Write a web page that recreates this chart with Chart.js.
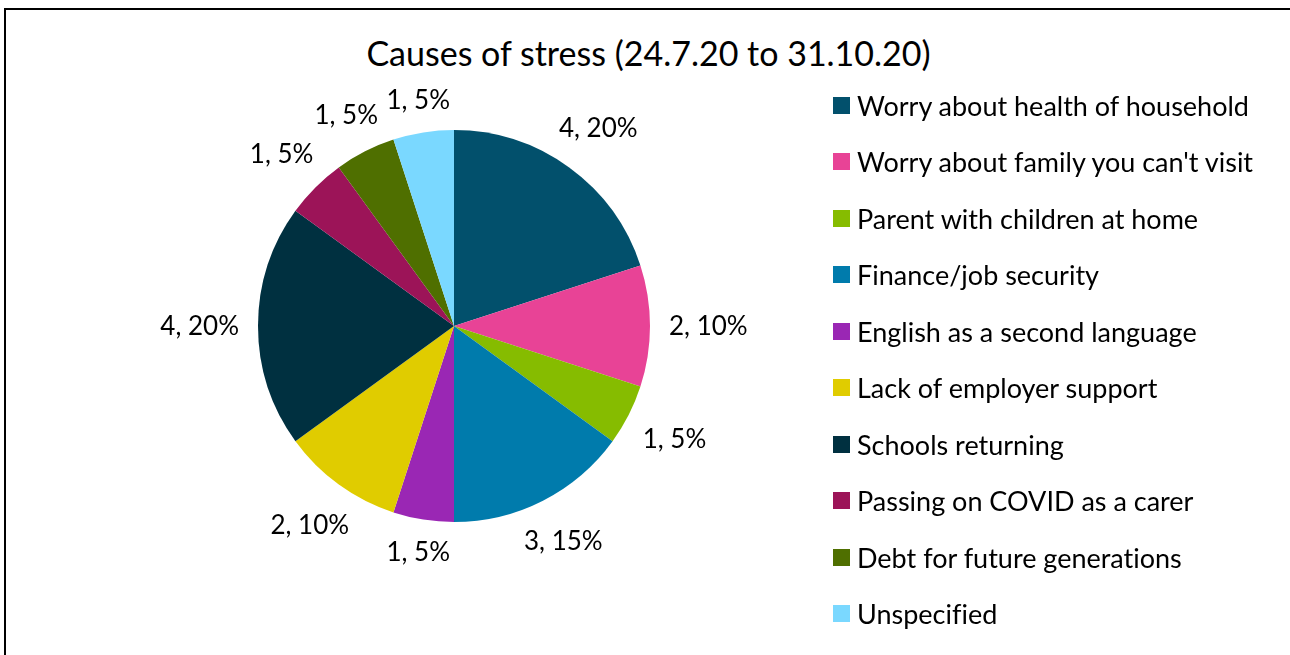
<!DOCTYPE html>
<html lang="en">
<head>
  <meta charset="UTF-8" />
  <title>Causes of stress</title>
  <script src="https://cdn.jsdelivr.net/npm/chart.js"></script>
  <style>
    html, body { margin: 0; padding: 0; background: #fff; overflow: hidden; }
    body { width: 1290px; height: 655px; position: relative; font-family: 'Lato', sans-serif; color: #000; font-variant-ligatures: none; }
    .frame { position: absolute; left: 4px; top: 8px; width: 1320px; height: 700px; border: 2px solid #000; box-sizing: border-box; }
    #chart { position: absolute; left: 0; top: 0; }
    .title { position: absolute; left: 0; width: 1297px; top: 33px; text-align: center; font-size: 34px; line-height: 40px; }
    #legend { position: absolute; left: 833px; top: 76.75px; margin: 0; padding: 0; list-style: none; }
    #legend li { height: 56.55px; display: flex; align-items: center; font-size: 27px; white-space: nowrap; }
    #legend .box { width: 17px; height: 17px; margin-right: 7px; flex: none; }
  </style>
</head>
<body>
  <div class="frame"></div>
  <div class="title">Causes of stress (24.7.20 to 31.10.20)</div>
  <canvas id="chart" width="1290" height="655"></canvas>
  <ul id="legend"></ul>

  <script>
    const categories = [
      "Worry about health of household",
      "Worry about family you can't visit",
      "Parent with children at home",
      "Finance/job security",
      "English as a second language",
      "Lack of employer support",
      "Schools returning",
      "Passing on COVID as a carer",
      "Debt for future generations",
      "Unspecified"
    ];
    const counts = [4, 2, 1, 3, 1, 2, 4, 1, 1, 1];
    const colours = ["#02506C", "#E84396", "#86BC00", "#007BAC", "#9A27B4",
                     "#E0CC00", "#003040", "#9C1458", "#4F6F00", "#7AD8FF"];

    const total = counts.reduce((a, b) => a + b, 0);

    // value labels outside each slice: "n, p%"
    const outsideLabels = {
      id: "outsideLabels",
      afterDatasetsDraw(chart) {
        const ctx = chart.ctx;
        const meta = chart.getDatasetMeta(0);
        ctx.save();
        ctx.font = "26px Lato";
        ctx.fillStyle = "#000";
        ctx.textAlign = "center";
        ctx.textBaseline = "middle";
        meta.data.forEach((arc, i) => {
          const p = arc.getProps(["x", "y", "startAngle", "endAngle", "outerRadius"], true);
          const mid = (p.startAngle + p.endAngle) / 2;
          const v = chart.data.datasets[0].data[i];
          const text = v + ", " + Math.round(v / total * 100) + "%";
          const w = ctx.measureText(text).width;
          const cos = Math.cos(mid), sin = Math.sin(mid);
          const d = p.outerRadius + 19 + (w / 2) * Math.abs(cos) + 9 * Math.abs(sin);
          ctx.fillText(text, p.x + d * cos, p.y + d * sin + 1);
        });
        ctx.restore();
      }
    };

    const chart = new Chart(document.getElementById("chart"), {
      type: "pie",
      data: {
        labels: categories,
        datasets: [{
          data: counts,
          backgroundColor: colours,
          borderWidth: 0,
          hoverOffset: 0,
          offset: 0
        }]
      },
      options: {
        responsive: false,
        animation: false,
        events: [],
        layout: { padding: { left: 258, right: 640, top: 130, bottom: 133 } },
        plugins: {
          legend: { display: false },
          tooltip: { enabled: false }
        }
      },
      plugins: [outsideLabels]
    });

    // legend built from the chart's own legend items
    const legendEl = document.getElementById("legend");
    chart.options.plugins.legend.labels.generateLabels(chart).forEach(item => {
      const li = document.createElement("li");
      const box = document.createElement("span");
      box.className = "box";
      box.style.background = item.fillStyle;
      li.appendChild(box);
      li.appendChild(document.createTextNode(item.text));
      legendEl.appendChild(li);
    });
  </script>
</body>
</html>
